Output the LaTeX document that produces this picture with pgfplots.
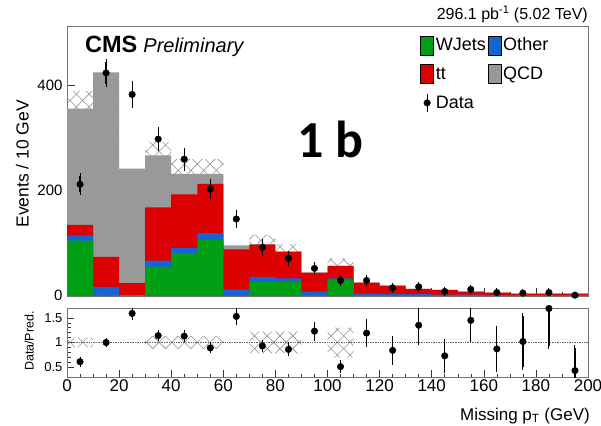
\documentclass[border=0pt]{standalone}
\usepackage{fontspec}
\setmainfont{Liberation Sans}
\newfontfamily\carlito{Carlito}
\usepackage{pgfplots}
\usepackage{pgfplotstable}
\pgfplotsset{compat=1.18}
\usepgfplotslibrary{fillbetween}
\usetikzlibrary{patterns.meta}
\definecolor{cgreen}{RGB}{0,160,20}
\definecolor{cblue}{RGB}{20,100,210}
\definecolor{cred}{RGB}{220,0,0}
\definecolor{cgray}{RGB}{153,153,153}

% cumulative stack tops per bin: green, green+blue, green+blue+red, total (with QCD)
\pgfplotstableread{
x g gb gbr tot
5 105 115 135 356
15 0 17 74 425
25 0 0 24 242
35 55 67 168 267
45 81 91 193 232
55 106 119 213 232
65 0 12 88 96
75 27 36 97 98
85 27 33 84 84
95 0 8 44 44
105 30 33 57 57
115 0 4 25 25
125 0 3 19 19
135 0 3 13 13
145 0 2 11 11
155 0 2 8 8
165 0 1 6 6
175 0 1 4 4
185 0 1 4 4
195 0 1 4 4
}\stack

\pgfplotstableread{
x lo hi
0 319 390
10 425 425
20 242 242
30 240 293
40 202 260
50 202 260
60 96 96
70 80 116
80 70 98
90 44 44
100 43 71
110 25 25
120 19 19
130 13 13
140 11 11
150 8 8
160 6 6
170 4 4
180 4 4
190 4 4
200 4 4
}\band

\pgfplotstableread{
x y e
5 212 15
15 424 21
25 383 20
35 298 17
45 260 16
55 203 14
65 146 12
75 92 10
85 71 8
95 52 7
105 29 5
115 29 5
125 15 4
135 17 4
145 8 3
155 12 3.5
165 6 2.5
175 5 2.2
185 6 2.5
195 1 1
}\data

\pgfplotstableread{
x y e
5 0.61 0.04
15 1.00 0.03
25 1.59 0.07
35 1.14 0.05
45 1.13 0.06
55 0.89 0.05
65 1.53 0.12
75 0.93 0.07
85 0.86 0.08
95 1.23 0.13
105 0.51 0.07
115 1.19 0.23
125 0.84 0.23
135 1.35 0.34
145 0.73 0.28
155 1.45 0.37
165 0.87 0.41
175 1.02 0.52
185 1.69 0.77
195 0.43 0.46
}\ratio

\pgfplotstableread{
x lo hi
0 0.9 1.1
10 1 1
20 1 1
30 0.87 1.13
40 0.87 1.13
50 0.87 1.13
60 1 1
70 0.78 1.22
80 0.78 1.22
90 1 1
100 0.7 1.3
110 1 1
120 1 1
130 1 1
140 1 1
150 1 1
160 1 1
170 1 1
180 1 1
190 1 1
200 1 1
}\rband

\pgfplotsset{
  boxleg/.style={legend image code/.code={\fill[##1] (0pt,-9.5pt) rectangle (13pt,9.5pt);}},
  dataleg/.style={legend image code/.code={\draw[line width=1.2pt,black] (6.5pt,-9pt) -- (6.5pt,9pt); \fill[black] (6.5pt,0pt) circle (3.3pt);}},
  hatchstyle/.style={pattern={Hatch[angle=45,distance=9pt,line width=0.6pt]}, pattern color=gray!85},
}

\begin{document}
\begin{tikzpicture}
\begin{axis}[
  at={(67pt,-26.7pt)}, anchor=north west,
  scale only axis, width=521pt, height=269pt,
  xmin=0, xmax=200, ymin=0, ymax=512,
  xtick={0,20,...,200}, xticklabels={}, minor x tick num=3,
  ytick={0,200,400}, minor y tick num=3,
  tick align=inside, tick pos=left,
  major tick length=8pt, minor tick length=4pt,
  axis line style={black!55}, tick style={black!80, line width=0.5pt},
  /pgf/number format/assume math mode=true,
  yticklabel style={font=\fontsize{15}{15}\selectfont, xshift=-1pt},
  legend columns=2,
  legend cell align=left,
  legend style={at={(axis description cs:0.678,0.968)}, anchor=north west, draw=none, fill=none,
    font=\fontsize{18}{20}\selectfont, inner sep=0pt, row sep=9.5pt,
    nodes={inner xsep=2pt, inner ysep=1pt},
    /tikz/every even column/.append style={column sep=0pt}},
]
\addplot[ybar, bar width=10, bar shift=0pt, fill=cgray, draw=none, forget plot] table[x=x,y=tot]{\stack};
\addplot[ybar, bar width=10, bar shift=0pt, fill=cred, draw=none, forget plot] table[x=x,y=gbr]{\stack};
\addplot[ybar, bar width=10, bar shift=0pt, fill=cblue, draw=none, forget plot] table[x=x,y=gb]{\stack};
\addplot[ybar, bar width=10, bar shift=0pt, fill=cgreen, draw=none, forget plot] table[x=x,y=g]{\stack};

\addplot[name path=bu, draw=none, const plot, forget plot] table[x=x,y=hi]{\band};
\addplot[name path=bl, draw=none, const plot, forget plot] table[x=x,y=lo]{\band};
\addplot[hatchstyle, forget plot] fill between[of=bu and bl];

\addplot[only marks, mark=*, mark size=3.3pt, black, forget plot,
  error bars/.cd, y dir=both, y explicit,
  error bar style={line width=1.2pt, black},
  error mark options={mark size=3pt, line width=1pt, black}]
  table[x=x,y=y,y error=e]{\data};

\addlegendimage{boxleg, fill=cgreen}
\addlegendentry{WJets}
\addlegendimage{boxleg, fill=cblue}
\addlegendentry{Other}
\addlegendimage{boxleg, fill=cred}
\addlegendentry{tt}
\addlegendimage{boxleg, fill=cgray}
\addlegendentry{QCD}
\addlegendimage{dataleg}
\addlegendentry{Data}
\end{axis}

\begin{axis}[
  at={(67pt,-308pt)}, anchor=north west,
  scale only axis, width=521pt, height=69pt,
  xmin=0, xmax=200, ymin=0.3, ymax=1.70,
  xtick={0,20,...,200}, minor x tick num=3,
  ytick={0.5,1,1.5}, minor y tick num=4,
  tick align=inside, tick pos=left,
  major tick length=7pt, minor tick length=3.5pt,
  axis line style={black!55}, tick style={black!80, line width=0.5pt},
  /pgf/number format/assume math mode=true,
  yticklabel style={font=\fontsize{13}{13}\selectfont, xshift=-1pt},
  xticklabel style={font=\fontsize{17}{17}\selectfont, yshift=1pt},
]
\addplot[black!60, densely dotted, line width=0.7pt] coordinates {(0,1) (200,1)};
\addplot[name path=ru, draw=none, const plot, forget plot] table[x=x,y=hi]{\rband};
\addplot[name path=rl, draw=none, const plot, forget plot] table[x=x,y=lo]{\rband};
\addplot[hatchstyle, forget plot] fill between[of=ru and rl];
\addplot[only marks, mark=*, mark size=3.3pt, black,
  error bars/.cd, y dir=both, y explicit,
  error bar style={line width=1.3pt, black},
  error mark options={mark size=3pt, line width=1pt, black}]
  table[x=x,y=y,y error=e]{\ratio};
\end{axis}

\node[anchor=base east, inner sep=0pt, font=\fontsize{16}{16}\selectfont] at (588pt,-20pt) {296.1 pb\textsuperscript{-1} (5.02 TeV)};
\node[anchor=base west, inner sep=0pt] at (85pt,-53pt) {\fontsize{23.5}{24}\selectfont\bfseries CMS\hspace{6pt}\fontsize{20}{20}\selectfont\mdseries\itshape Preliminary};
\node[anchor=base west, inner sep=0pt] at (297pt,-157pt) {\carlito\fontsize{52}{52}\selectfont\bfseries 1 b};
\node[rotate=90, anchor=south east, inner sep=0pt, font=\fontsize{17.5}{17.5}\selectfont] at (29pt,-100pt) {Events / 10 GeV};
\node[rotate=90, anchor=south east, inner sep=0pt, font=\fontsize{12.5}{12.5}\selectfont] at (34pt,-311pt) {Data/Pred.};
\node[anchor=base east, inner sep=0pt, font=\fontsize{17}{17}\selectfont] at (590pt,-420pt) {Missing p\textsubscript{T} (GeV)};
\pgfresetboundingbox
\useasboundingbox (0,0) rectangle (601pt,-425pt);
\end{tikzpicture}
\end{document}
